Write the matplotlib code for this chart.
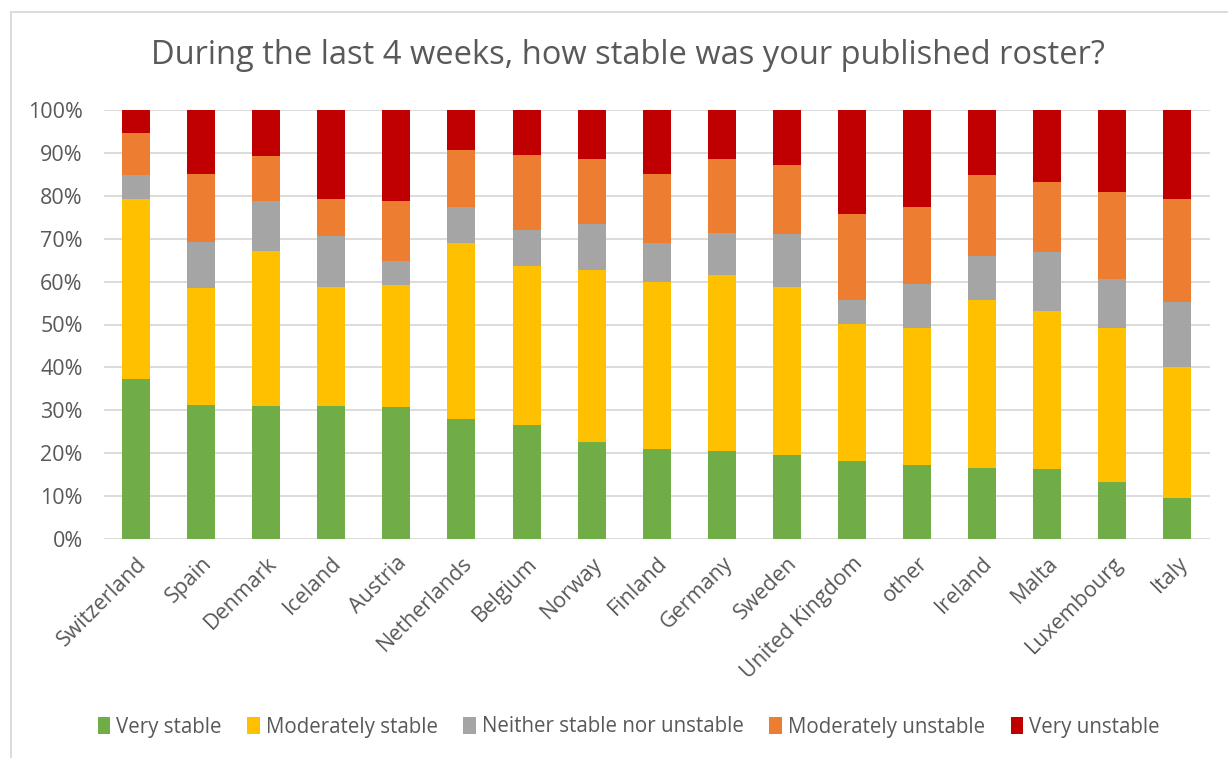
import matplotlib
matplotlib.use("Agg")
import matplotlib.pyplot as plt
from matplotlib.patches import Rectangle, Patch
import numpy as np

countries = ["Switzerland", "Spain", "Denmark", "Iceland", "Austria", "Netherlands",
             "Belgium", "Norway", "Finland", "Germany", "Sweden", "United Kingdom",
             "other", "Ireland", "Malta", "Luxembourg", "Italy"]

very_stable = [37.3, 31.2, 31.0, 31.0, 30.7, 28.0, 26.5, 22.6, 21.0, 20.5, 19.6, 18.1,
               17.2, 16.6, 16.3, 13.3, 9.5]
moderately_stable = [41.9, 27.3, 36.1, 27.7, 28.4, 40.9, 37.1, 40.1, 39.0, 41.0, 39.1, 32.0,
                     32.1, 39.2, 36.8, 36.0, 30.7]
neither = [5.6, 10.7, 11.7, 12.0, 5.6, 8.4, 8.4, 10.7, 8.9, 9.8, 12.3, 5.7,
           10.1, 10.2, 13.7, 11.2, 15.0]
moderately_unstable = [9.9, 15.9, 10.5, 8.5, 14.2, 13.4, 17.6, 15.2, 16.2, 17.3, 16.2, 20.0,
                       17.9, 18.8, 16.5, 20.4, 24.0]
very_unstable = [5.3, 14.9, 10.7, 20.8, 21.1, 9.3, 10.4, 11.4, 14.9, 11.4, 12.8, 24.2,
                 22.7, 15.2, 16.7, 19.1, 20.8]

series_names = ["Very stable", "Moderately stable", "Neither stable nor unstable",
                "Moderately unstable", "Very unstable"]
series_colors = ["#70AD47", "#FFC000", "#A5A5A5", "#ED7D31", "#C00000"]
series_values = [very_stable, moderately_stable, neither, moderately_unstable, very_unstable]

title = "During the last 4 weeks, how stable was your published roster?"
text_color = "#595959"
font = ["Open Sans", "DejaVu Sans"]

plt.rcParams["font.family"] = font

fig = plt.figure(figsize=(12.28, 7.58), dpi=100)
ax = fig.add_axes([103.5 / 1228, 1 - 539 / 758, (1210 - 103.5) / 1228, (539 - 110) / 758])

x = np.arange(len(countries))
bottom = np.zeros(len(countries))
for name, color, vals in zip(series_names, series_colors, series_values):
    vals = np.array(vals)
    ax.bar(x, vals, width=0.43, bottom=bottom, color=color, label=name, zorder=3)
    bottom += vals

ax.set_xlim(-0.5, len(countries) - 0.5)
ax.set_ylim(0, 100)
ax.set_yticks(np.arange(0, 101, 10))
ax.set_yticklabels([f"{v}%" for v in range(0, 101, 10)])
ax.yaxis.grid(True, color="#D9D9D9", linewidth=1.3, zorder=0)
ax.set_axisbelow(True)
for side in ["top", "right", "left", "bottom"]:
    ax.spines[side].set_visible(False)
ax.tick_params(axis="both", length=0, colors=text_color, labelsize=15.5)
ax.tick_params(axis="y", pad=15)

ax.set_xticks(x)
ax.set_xticklabels(countries, rotation=45, ha="right", va="top",
                   rotation_mode="anchor", color=text_color, fontsize=15.5)
ax.tick_params(axis="x", pad=10)

fig.text(0.511, 1 - 55 / 758, title, ha="center", va="center",
         fontsize=23.5, color=text_color)

handles = [Patch(facecolor=c, label=n) for n, c in zip(series_names, series_colors)]
fig.legend(handles=handles, loc="center", bbox_to_anchor=(0.512, 1 - 727 / 758),
           ncol=5, frameon=False, fontsize=14.8, labelcolor=text_color,
           handlelength=0.6, handleheight=0.9, handletextpad=0.3, columnspacing=1.25)

# chart area border
fig.patches.append(Rectangle((11 / 1228, -0.1), 1.2, 1 - 12 / 758 + 0.1,
                             transform=fig.transFigure, fill=False,
                             edgecolor="#D9D9D9", linewidth=1.3))

fig.savefig("out.png", dpi=100, facecolor="white")
